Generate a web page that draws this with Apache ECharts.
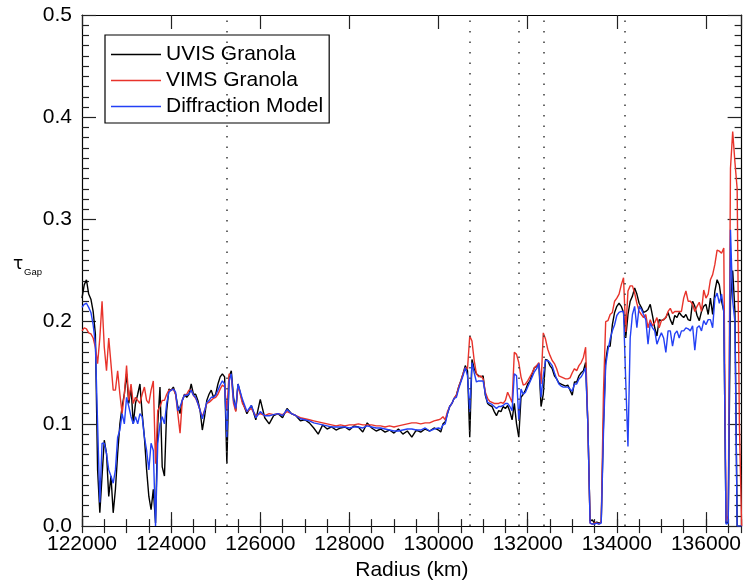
<!DOCTYPE html>
<html>
<head>
<meta charset="utf-8">
<script src="https://cdn.jsdelivr.net/npm/echarts@6/dist/echarts.min.js"></script>
<style>
html,body{margin:0;padding:0;background:#fff;}
#chart{width:744px;height:586px;}
</style>
</head>
<body>
<div id="chart"></div>
<script>
// Radius grid (km)
const radius = [
122000,122050,122100,122150,122200,122250,122300,122350,122400,122450,
122500,122550,122600,122650,122700,122750,122800,122850,122900,122950,
123000,123050,123100,123150,123200,123250,123300,123350,123400,123450,
123500,123550,123600,123650,123700,123750,123800,123850,123900,123950,
124000,124050,124100,124150,124200,124250,124300,124350,124400,124450,
124500,124550,124600,124650,124700,124750,124800,124850,124900,124950,
125000,125050,125100,125150,125200,125250,125300,125350,125400,125450,
125500,
125600,125700,125800,125900,126000,126100,126200,126300,126400,126500,
126600,126700,126800,126900,127000,127100,127200,127300,127400,127500,
127600,127700,127800,127900,128000,128100,128200,128300,128400,128500,
128600,128700,128800,128900,129000,129100,129200,129300,129400,129500,
129600,129700,129800,129900,130000,
130050,130100,130150,130200,130250,130300,130350,130400,130450,130500,
130550,130600,130650,130700,130750,130800,130850,130900,130950,131000,
131050,131100,131150,131200,131250,131300,131350,131400,131450,131500,
131550,131600,131650,131700,131750,131800,131850,131900,131950,132000,
132050,132100,132150,132200,132250,132300,132350,132400,132450,132500,
132550,132600,132650,132700,132750,132800,132850,132900,132950,133000,
133050,133100,133150,133200,133250,133300,133350,
133400,133450,133500,133550,133600,133650,133700,133750,133800,133850,
133900,133950,134000,134050,134100,134150,134200,134250,134300,134350,
134400,134450,134500,134550,134600,134650,134700,134750,134800,134850,
134900,134950,135000,135050,135100,135150,135200,135250,135300,135350,
135400,135450,135500,135550,135600,135650,135700,135750,135800,135850,
135900,135950,136000,136050,136100,136150,136200,136250,136300,136350,
136400,136450,136500,136550,136600,136650,136700,136750,136800
];

// UVIS Granola (black)
const uvis = [
0.223,0.236,0.241,0.227,0.222,0.210,0.188,0.055,0.013,0.049,
0.084,0.071,0.029,0.049,0.013,0.036,0.071,0.100,0.117,0.129,
0.149,0.120,0.136,0.100,0.120,0.129,0.139,0.110,0.087,0.055,
0.029,0.016,0.036,0.003,0.100,0.136,0.058,0.049,0.113,0.134,
0.133,0.136,0.129,0.117,0.110,0.123,0.129,0.126,0.129,0.139,
0.129,0.129,0.123,0.113,0.094,0.107,0.123,0.129,0.133,0.126,
0.129,0.139,0.146,0.149,0.146,0.061,0.146,0.152,0.126,0.113,
0.139,
0.122,0.110,0.118,0.104,0.124,0.106,0.100,0.108,0.110,0.106,
0.115,0.110,0.108,0.103,0.104,0.101,0.096,0.090,0.099,0.095,
0.097,0.094,0.096,0.097,0.094,0.098,0.097,0.092,0.101,0.096,
0.093,0.095,0.092,0.094,0.091,0.095,0.090,0.093,0.087,0.094,
0.092,0.095,0.093,0.096,0.094,
0.092,0.100,0.102,0.110,0.117,0.120,0.125,0.128,0.136,0.142,
0.149,0.157,0.152,0.087,0.163,0.154,0.149,0.147,0.146,0.147,
0.128,0.120,0.118,0.117,0.112,0.108,0.113,0.112,0.117,0.115,
0.118,0.112,0.104,0.120,0.100,0.087,0.126,0.129,0.133,0.139,
0.142,0.149,0.155,0.156,0.159,0.117,0.129,0.163,0.162,0.157,
0.154,0.147,0.144,0.140,0.139,0.138,0.137,0.138,0.133,0.128,
0.141,0.141,0.147,0.150,0.152,0.160,0.100,
0.005,0.006,0.003,0.004,0.003,0.004,0.100,0.162,0.176,0.176,
0.197,0.209,0.215,0.218,0.215,0.209,0.184,0.207,0.220,0.225,
0.233,0.227,0.218,0.214,0.209,0.210,0.212,0.217,0.206,0.194,
0.186,0.202,0.201,0.202,0.204,0.209,0.202,0.197,0.206,0.204,
0.209,0.206,0.204,0.207,0.202,0.201,0.220,0.215,0.206,0.201,
0.210,0.215,0.217,0.207,0.223,0.207,0.230,0.241,0.236,0.220,
0.210,0.003,0.004,0.220,0.250,0.210,0.000,0.000,0.000
];

// VIMS Granola (red)
const vims = [
0.191,0.194,0.193,0.189,0.188,0.184,0.175,0.159,0.184,0.220,
0.175,0.152,0.184,0.159,0.133,0.133,0.152,0.129,0.110,0.129,
0.157,0.123,0.139,0.120,0.126,0.123,0.120,0.129,0.136,0.123,
0.120,0.133,0.142,0.061,0.113,0.117,0.123,0.123,0.129,0.133,
0.133,0.134,0.129,0.110,0.091,0.123,0.128,0.129,0.133,0.133,
0.128,0.125,0.120,0.113,0.107,0.113,0.120,0.121,0.123,0.125,
0.126,0.129,0.134,0.138,0.136,0.113,0.149,0.146,0.120,0.112,
0.138,
0.120,0.112,0.115,0.108,0.110,0.108,0.110,0.109,0.110,0.109,
0.112,0.110,0.108,0.106,0.105,0.104,0.103,0.102,0.101,0.100,
0.099,0.098,0.099,0.098,0.099,0.099,0.100,0.099,0.099,0.099,
0.098,0.098,0.097,0.098,0.097,0.098,0.099,0.100,0.101,0.101,
0.100,0.101,0.101,0.103,0.104,
0.105,0.107,0.104,0.112,0.117,0.120,0.125,0.128,0.136,0.142,
0.149,0.155,0.154,0.186,0.181,0.162,0.149,0.146,0.147,0.144,
0.131,0.125,0.122,0.121,0.120,0.120,0.120,0.121,0.120,0.123,
0.131,0.126,0.121,0.170,0.168,0.160,0.146,0.138,0.139,0.142,
0.146,0.150,0.155,0.157,0.160,0.139,0.189,0.183,0.173,0.167,
0.162,0.159,0.154,0.147,0.146,0.145,0.144,0.144,0.145,0.150,
0.154,0.152,0.157,0.160,0.165,0.175,0.100,
0.003,0.002,0.003,0.003,0.002,0.004,0.130,0.200,0.201,0.207,
0.209,0.220,0.223,0.227,0.236,0.243,0.190,0.230,0.235,0.235,
0.228,0.218,0.210,0.207,0.204,0.207,0.194,0.202,0.196,0.199,
0.204,0.194,0.201,0.202,0.204,0.210,0.213,0.208,0.210,0.210,
0.210,0.210,0.223,0.230,0.220,0.220,0.217,0.210,0.215,0.219,
0.210,0.231,0.223,0.227,0.241,0.246,0.256,0.270,0.269,0.267,
0.272,0.005,0.010,0.350,0.386,0.356,0.330,0.100,0.000
];

// Diffraction Model (blue)
const model = [
0.214,0.217,0.218,0.214,0.209,0.197,0.178,0.100,0.023,0.081,
0.081,0.071,0.055,0.049,0.042,0.055,0.087,0.094,0.110,0.100,
0.126,0.117,0.107,0.100,0.107,0.100,0.110,0.107,0.087,0.074,
0.055,0.081,0.074,0.000,0.081,0.100,0.107,0.100,0.120,0.131,
0.133,0.134,0.131,0.113,0.117,0.123,0.128,0.128,0.129,0.133,
0.128,0.126,0.120,0.113,0.105,0.113,0.121,0.123,0.126,0.126,
0.128,0.133,0.138,0.142,0.139,0.087,0.142,0.149,0.123,0.115,
0.139,
0.124,0.112,0.118,0.106,0.112,0.108,0.108,0.109,0.110,0.108,
0.114,0.110,0.108,0.105,0.104,0.103,0.101,0.100,0.099,0.098,
0.097,0.097,0.097,0.097,0.096,0.097,0.097,0.096,0.098,0.097,
0.096,0.096,0.095,0.094,0.093,0.093,0.094,0.095,0.095,0.094,
0.094,0.096,0.093,0.095,0.096,
0.095,0.099,0.100,0.110,0.117,0.120,0.125,0.126,0.134,0.141,
0.147,0.155,0.147,0.112,0.160,0.150,0.141,0.142,0.142,0.142,
0.129,0.121,0.120,0.119,0.117,0.115,0.117,0.117,0.118,0.120,
0.120,0.117,0.113,0.149,0.147,0.104,0.134,0.129,0.131,0.136,
0.141,0.146,0.151,0.154,0.159,0.126,0.147,0.162,0.162,0.160,
0.157,0.150,0.144,0.139,0.137,0.136,0.136,0.136,0.134,0.132,
0.139,0.139,0.144,0.146,0.150,0.155,0.100,
0.003,0.002,0.002,0.003,0.002,0.003,0.090,0.157,0.172,0.183,
0.191,0.197,0.206,0.209,0.210,0.210,0.142,0.078,0.184,0.207,
0.215,0.194,0.215,0.212,0.207,0.202,0.178,0.199,0.194,0.191,
0.178,0.184,0.189,0.184,0.170,0.191,0.191,0.176,0.188,0.191,
0.184,0.191,0.191,0.194,0.193,0.191,0.196,0.172,0.194,0.196,
0.191,0.201,0.197,0.202,0.202,0.194,0.223,0.228,0.218,0.227,
0.210,0.002,0.003,0.290,0.220,0.200,0.000,0.000,0.000
];

// Dotted reference radii
const dottedRadii = [125250, 130710, 131800, 132350, 134170];

const xTicks = {min: 122000, max: 136800, major: 2000, minor: 500};
const yTicks = {min: 0, max: 0.5, major: 0.1};

const FONT = "'Liberation Sans', Arial, Helvetica, sans-serif";
const tickColor = '#222';
const LINE_ICON = 'path://M0,0 L50,0 L50,1.4 L0,1.4 Z';

function pairs(vals){ return radius.map((r,i)=>[r, vals[i]]); }

const chart = echarts.init(document.getElementById('chart'), null, {renderer:'canvas'});

function xAx(pos, interval, len, opts){
  return Object.assign({
    type:'value', position: pos, min: xTicks.min, max: xTicks.max, interval: interval,
    axisLine:{show:true, onZero:false, lineStyle:{color:'#000', width:1.2}},
    axisTick:{show:true, inside:true, length:len, lineStyle:{color:tickColor, width:1.2}},
    axisLabel:{show:false},
    splitLine:{show:false}
  }, opts||{});
}
function yAx(pos, opts){
  return Object.assign({
    type:'value', position: pos, min: yTicks.min, max: yTicks.max, interval: yTicks.major,
    axisLine:{show:true, onZero:false, lineStyle:{color:'#000', width:1.2}},
    axisTick:{show:true, inside:true, length:14, lineStyle:{color:tickColor, width:1.2}},
    minorTick:{show:true, splitNumber:10, length:7, lineStyle:{color:tickColor, width:1.2}},
    axisLabel:{show:false},
    splitLine:{show:false}
  }, opts||{});
}

const option = {
  animation:false,
  backgroundColor:'#fff',
  grid:{left:82, right:1, top:15, bottom:56, containLabel:false},
  legend:{
    orient:'vertical', left:105, top:35,
    itemWidth:50, itemHeight:14, itemGap:5,
    padding:[9,6,6,6],
    borderColor:'#000', borderWidth:1.2,
    backgroundColor:'#fff',
    icon: LINE_ICON,
    symbolKeepAspect:true,
    textStyle:{fontSize:21, color:'#000', fontFamily:FONT, lineHeight:21},
    data:['UVIS Granola','VIMS Granola','Diffraction Model']
  },
  xAxis:[
    xAx('bottom', xTicks.major, 14, {
      axisLabel:{show:true, showMaxLabel:false, fontSize:21, color:'#000', fontFamily:FONT, margin:8,
        formatter:(v)=>String(v)},
      name:'Radius (km)', nameLocation:'middle', nameGap:31,
      nameTextStyle:{fontSize:21, color:'#000', fontFamily:FONT}
    }),
    xAx('top', xTicks.major, 14),
    xAx('bottom', xTicks.minor, 7, {axisLine:{show:false}}),
    xAx('top', xTicks.minor, 7, {axisLine:{show:false}})
  ],
  yAxis:[
    yAx('left', {axisLabel:{show:true, fontSize:21, color:'#000', fontFamily:FONT, margin:10,
      formatter:(v)=>v.toFixed(1)}}),
    yAx('right')
  ],
  graphic:[
    {type:'text', left:13, top:256, style:{text:'τ', fontSize:17, fill:'#000', fontFamily:"'DejaVu Sans', sans-serif"}},
    {type:'text', left:24, top:267, style:{text:'Gap', fontSize:9.5, fill:'#000', fontFamily:FONT}}
  ],
  series:[
    {name:'UVIS Granola', type:'line', xAxisIndex:0, yAxisIndex:0, data:pairs(uvis),
     symbol:'none', showSymbol:false, color:'#000', lineStyle:{color:'#000', width:1.4},
     markLine:{silent:true, symbol:['none','none'], label:{show:false},
       lineStyle:{color:'#444', width:1.6, type:[1.6,8.9]},
       data: dottedRadii.map(r=>({xAxis:r}))}},
    {name:'VIMS Granola', type:'line', xAxisIndex:0, yAxisIndex:0, data:pairs(vims),
     symbol:'none', showSymbol:false, color:'#e8332b', lineStyle:{color:'#e8332b', width:1.4}},
    {name:'Diffraction Model', type:'line', xAxisIndex:0, yAxisIndex:0, data:pairs(model),
     symbol:'none', showSymbol:false, color:'#2340f5', lineStyle:{color:'#2340f5', width:1.4}}
  ]
};
chart.setOption(option);
</script>
</body>
</html>
